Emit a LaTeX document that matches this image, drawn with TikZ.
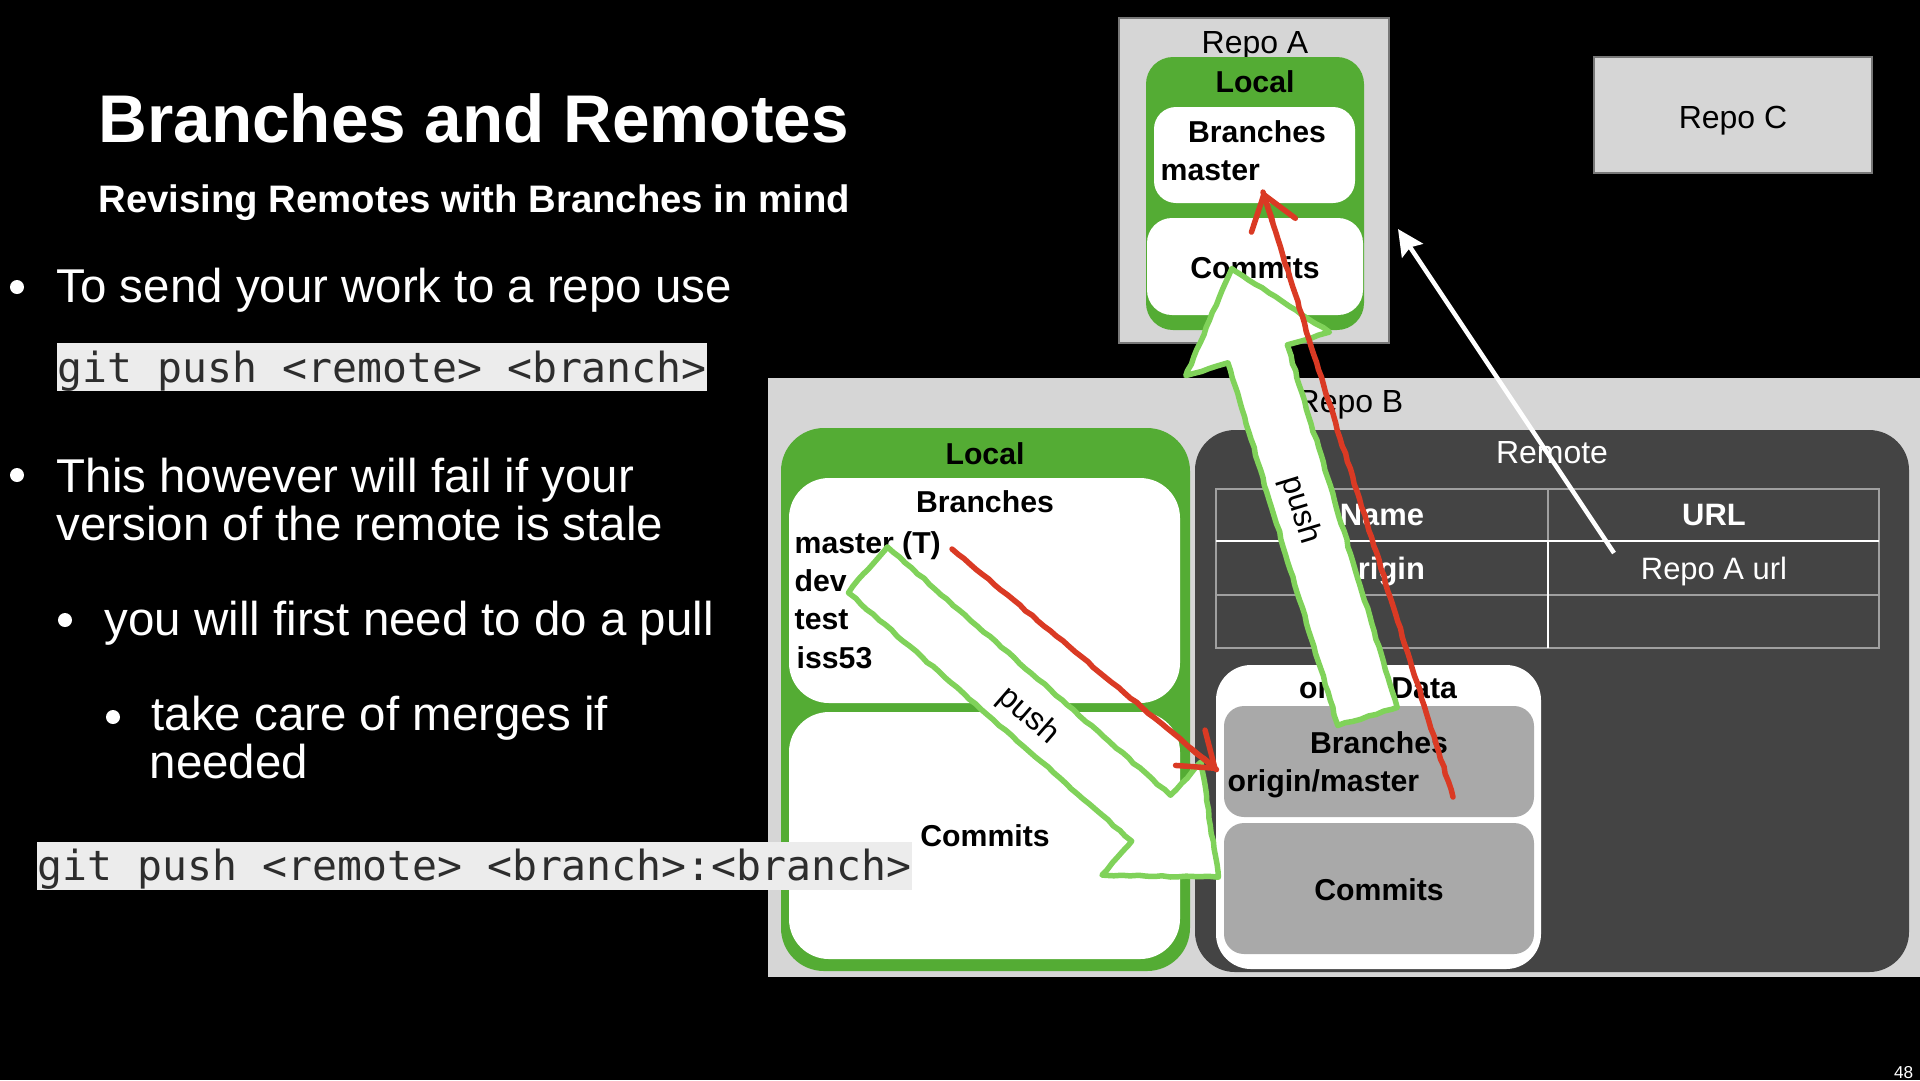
\documentclass[tikz,border=0pt]{standalone}
\usepackage{fontspec}
\setmainfont{Liberation Sans}
\newfontfamily\codefont{DejaVu Sans Mono}
\usetikzlibrary{fit,calc,arrows.meta,decorations.pathmorphing}

\definecolor{repogray}{RGB}{214,214,214}
\definecolor{repoedge}{RGB}{120,120,120}
\definecolor{localgreen}{RGB}{84,172,52}
\definecolor{remotedark}{RGB}{68,68,68}
\definecolor{trackgray}{RGB}{169,169,169}
\definecolor{codebg}{RGB}{236,236,236}
\definecolor{codefg}{RGB}{45,45,45}
\definecolor{pushgreen}{RGB}{128,210,90}
\definecolor{flowred}{RGB}{218,58,36}
\definecolor{tableline}{RGB}{160,160,160}

\begin{document}
\begin{tikzpicture}[x=0.1mm,y=-0.1mm,
  area/.style={inner sep=0pt, outer sep=0pt},
  repobox/.style={area, fill=repogray, draw=repoedge, line width=0.12mm},
  greenbox/.style={area, fill=localgreen},
  whitebox/.style={area, fill=white, rounded corners=2.2mm},
  trackbox/.style={area, fill=trackgray, rounded corners=2mm},
  codebox/.style={area, fill=codebg},
  titletext/.style={inner sep=0pt, anchor=base west, text=white, font=\fontsize{19.2pt}{23pt}\selectfont\bfseries},
  subtext/.style={inner sep=0pt, anchor=base west, text=white, font=\fontsize{10.9pt}{13pt}\selectfont\bfseries},
  bodytext/.style={inner sep=0pt, anchor=base west, text=white, font=\fontsize{13.5pt}{13.7pt}\selectfont},
  codetext/.style={inner sep=0pt, anchor=base west, text=codefg, font=\codefont\fontsize{11.8pt}{14pt}\selectfont},
  dot/.style={circle, fill=white, inner sep=0pt, minimum size=1.4mm},
  lbl/.style={inner sep=0pt, anchor=base, text=black, font=\fontsize{8.6pt}{10pt}\selectfont\bfseries},
  lblw/.style={lbl, anchor=base west},
  repolbl/.style={inner sep=0pt, anchor=base, text=black, font=\fontsize{9.1pt}{11pt}\selectfont},
  cell/.style={inner sep=0pt, anchor=base, text=white, font=\fontsize{8.8pt}{10pt}\selectfont\bfseries},
  cellplain/.style={cell, font=\fontsize{8.8pt}{10pt}\selectfont},
  pushlbl/.style={inner sep=0pt, text=black, font=\fontsize{9.1pt}{11pt}\selectfont},
  pusharrow/.style={fill=white, draw=pushgreen, line width=0.55mm, line join=round,
    decorate, decoration={random steps, segment length=0.8mm, amplitude=0.07mm}},
  redshaft/.style={draw=flowred, line width=0.55mm, line cap=round, line join=round,
    decorate, decoration={random steps, segment length=0.8mm, amplitude=0.06mm}},
  redtip/.style={draw=flowred, line width=0.55mm, line cap=round,
    -{Straight Barb[length=3.2mm, width=4.6mm, round]}},
  linkarrow/.style={draw=white, line width=0.45mm,
    -{Stealth[length=2.6mm, width=2.5mm, inset=0.4mm]}}
]

% page
\useasboundingbox (0,0) rectangle (1920,1080);
\fill[black] (0,0) rectangle (1920,1080);

% ---------- slide text ----------
\node[titletext] (title) at (98,142) {Branches and Remotes};
\node[subtext] (subtitle) at (98,212) {Revising Remotes with Branches in mind};

\node[dot] (b1) at (17,287) {};
\node[bodytext] (t1) at (56,302) {To send your work to a repo use};
\node[codebox, fit={(57,343) (707,391)}] (cb1) {};
\node[codetext] (c1) at (57,382) {git push <remote> <branch>};

\node[dot] (b2) at (17,475) {};
\node[bodytext] (t2a) at (56,492) {This however will fail if your};
\node[bodytext] (t2b) at (56,540) {version of the remote is stale};

\node[dot] (b3) at (65,620) {};
\node[bodytext] (t3) at (104,635) {you will first need to do a pull};

\node[dot] (b4) at (113,717) {};
\node[bodytext] (t4a) at (151,730) {take care of merges if};
\node[bodytext] (t4b) at (149,778) {needed};

\node[inner sep=0pt, anchor=base east, text=white, font=\fontsize{4.9pt}{6pt}\selectfont] (pageno) at (1914,1078) {48};

% ---------- Repo A ----------
\node[repobox, fit={(1119,18) (1389,343)}] (repoA) {};
\node[repolbl] (repoAname) at (1255,53) {Repo A};
\node[greenbox, rounded corners=2.7mm, fit={(1146,57) (1364,330)}] (localA) {};
\node[lbl] (localAname) at (1255,92) {Local};
\node[whitebox, fit={(1154,107) (1355,203)}] (branchesA) {};
\node[lbl] (branchesAname) at (1257,142) {Branches};
\node[lblw] (masterA) at (1160,180) {master};
\node[whitebox, rounded corners=2.5mm, fit={(1147,218) (1363,315)}] (commitsA) {};
\node[lbl] (commitsAname) at (1255,278) {Commits};

% ---------- Repo C ----------
\node[repobox, fit={(1594,57) (1872,173)}] (repoC) {};
\node[repolbl] (repoCname) at (1733,128) {Repo C};

% ---------- Repo B ----------
\node[area, fill=repogray, fit={(768,378) (1920,977)}] (repoB) {};
\node[repolbl] (repoBname) at (1350,412) {Repo B};

% local part of Repo B
\node[greenbox, rounded corners=4.3mm, fit={(781,428) (1190,971)}] (localB) {};
\node[lbl] (localBname) at (985,464) {Local};
\node[whitebox, rounded corners=4mm, fit={(789,478) (1180,703)}] (branchesB) {};
\node[lbl] (branchesBname) at (985,512) {Branches};
\node[lblw] (masterB) at (794,553) {master (T)};
\node[lblw] (devB) at (794,591) {dev};
\node[lblw] (testB) at (794,629) {test};
\node[lblw] (issB) at (796,668) {iss53};
\node[whitebox, rounded corners=4mm, fit={(789,712) (1180,959)}] (commitsB) {};
\node[lbl] (commitsBname) at (985,846) {Commits};

% remote part of Repo B
\node[area, fill=remotedark, rounded corners=4mm, fit={(1195,430) (1909,972)}] (remoteB) {};
\node[inner sep=0pt, anchor=base, text=white, font=\fontsize{9.1pt}{11pt}\selectfont] (remoteBname) at (1552,463) {Remote};

% remotes table
\node[area, draw=tableline, line width=0.12mm, fit={(1216,489) (1879,648)}] (tbl) {};
\draw[tableline, line width=0.12mm] (1216,595) -- (1879,595);
\draw[tableline, line width=0.12mm] (1548,489) -- (1548,541);
\draw[white, line width=0.25mm] (1216,541) -- (1879,541);
\draw[white, line width=0.2mm] (1548,541) -- (1548,648);
\node[cell] (hname) at (1382,525) {Name};
\node[cell] (hurl) at (1714,525) {URL};
\node[cell] (origin) at (1382,579) {origin};
\node[cellplain] (originurl) at (1714,579) {Repo A url};

% tracking data
\node[area, fill=white, rounded corners=3.5mm, fit={(1216,665) (1541,969)}] (odata) {};
\node[lbl] (odataname) at (1378,698) {origin Data};
\node[trackbox, fit={(1224,706) (1534,817)}] (obranches) {};
\node[lbl] (obranchesname) at (1379,753) {Branches};
\node[lblw] (omaster) at (1227,791) {origin/master};
\node[trackbox, fit={(1224,823) (1534,954)}] (ocommits) {};
\node[lbl] (ocommitsname) at (1379,900) {Commits};

% code with explicit refspec
\node[codebox, fit={(37,842) (912,890)}] (cb2) {};
\node[codetext] (c2) at (37,880) {git push <remote> <branch>:<branch>};

% ---------- push arrows ----------
\filldraw[pusharrow] (887.3,546.9) -- (1171.3,795.9) -- (1201,762) -- (1218.4,877.2)
  -- (1102,875) -- (1131.7,841.1) -- (847.7,592.1) -- cycle;
\node[pushlbl, rotate=-41] (push1) at (1028,716) {push};

\filldraw[pusharrow] (1397.2,707.5) -- (1287.3,344.8) -- (1329.4,332.1) -- (1231.8,268.6)
  -- (1185.8,375.6) -- (1227.9,362.8) -- (1337.8,725.5) -- cycle;
\node[pushlbl, rotate=-73] (push2) at (1300,510) {push};

% ---------- branch flow (red) ----------
\coordinate (r1s) at (952,549);
\coordinate (r1e) at (1217,770);
\draw[redshaft] (r1s) -- (r1e);
\draw[redtip] ($(r1e)!0.1!(r1s)$) -- (r1e);

\coordinate (r2s) at (1453,797);
\coordinate (r2e) at (1263,192);
\draw[redshaft] (r2s) -- (r2e);
\draw[redtip] ($(r2e)!0.05!(r2s)$) -- (r2e);

% ---------- remote url points to Repo A ----------
\coordinate (urlfrom) at (1614,553);
\coordinate (urlto) at (1398,229);
\draw[linkarrow] (urlfrom) -- (urlto);

\end{tikzpicture}
\end{document}
